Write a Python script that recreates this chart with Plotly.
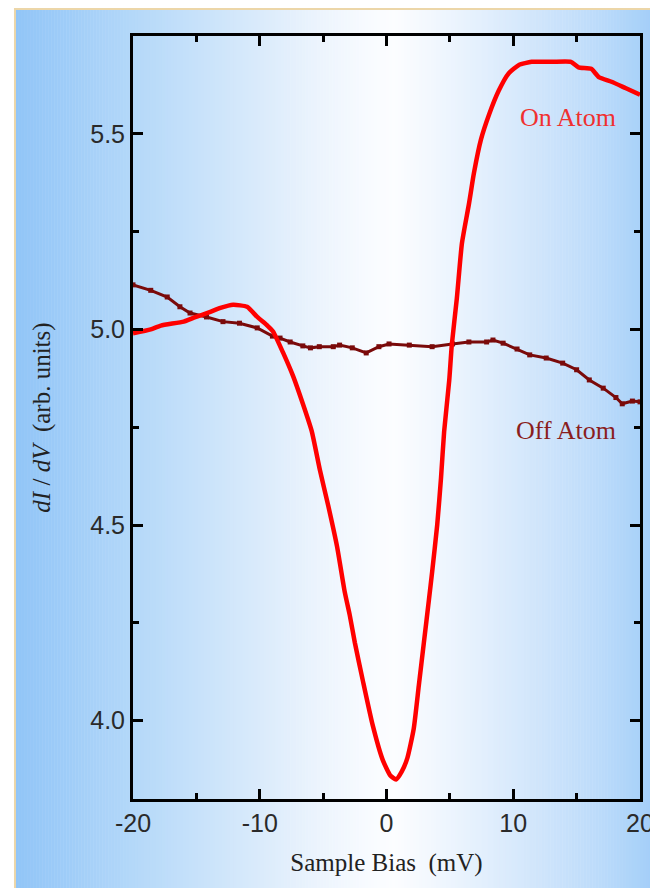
import plotly.graph_objects as go

# ---------------- data ----------------
ON_V = [-20.0, -18.6, -17.8, -16.0, -15.2, -13.9, -13.1, -12.1, -11.0, -10.2, -9.4,
        -8.95, -8.15, -7.36, -6.6, -5.9, -5.25, -4.6, -3.9, -3.3, -2.9, -2.5, -1.85,
        -1.1, -0.3, 0.3, 0.75, 1.2, 1.65, 2.15, 2.55, 2.95, 3.35, 3.6, 4.0, 4.3, 4.55,
        4.95, 5.15, 5.55, 5.95, 6.5, 6.9, 7.45, 8.1, 8.85, 9.65, 10.45, 11.45, 13.05,
        14.55, 15.15, 16.15, 16.75, 17.75, 18.85, 20.0]
ON_DIDV = [4.99, 5.0, 5.01, 5.02, 5.03, 5.045, 5.055, 5.063, 5.058, 5.032, 5.01,
           4.995, 4.94, 4.88, 4.81, 4.74, 4.64, 4.55, 4.445, 4.33, 4.27, 4.20, 4.10,
           3.99, 3.90, 3.86, 3.85, 3.87, 3.905, 3.98, 4.09, 4.20, 4.31, 4.38, 4.50,
           4.62, 4.74, 4.87, 4.96, 5.08, 5.22, 5.32, 5.40, 5.485, 5.55, 5.61, 5.655,
           5.676, 5.684, 5.684, 5.684, 5.67, 5.666, 5.645, 5.633, 5.617, 5.60]

OFF_V = [-20.0, -18.6, -17.3, -16.3, -15.5, -14.2, -12.9, -11.6, -10.2, -9.0, -8.4,
         -7.6, -6.6, -6.0, -5.3, -4.2, -3.7, -2.7, -1.6, -0.6, 0.2, 1.8, 3.6, 5.2,
         6.5, 7.9, 8.4, 9.2, 10.3, 11.3, 12.6, 13.9, 15.0, 16.0, 17.1, 18.1, 18.6,
         19.4, 20.0]
OFF_DIDV = [5.114, 5.10, 5.083, 5.058, 5.042, 5.032, 5.02, 5.016, 5.004, 4.983, 4.978,
            4.968, 4.958, 4.953, 4.956, 4.956, 4.96, 4.953, 4.94, 4.956, 4.963, 4.96,
            4.956, 4.963, 4.968, 4.968, 4.973, 4.965, 4.95, 4.935, 4.927, 4.914, 4.897,
            4.871, 4.85, 4.826, 4.81, 4.817, 4.815]

X_TICK_VALS = [-20, -10, 0, 10, 20]
X_TICK_LABELS = ["-20", "-10", "0", "10", "20"]
X_MINOR_VALS = [-15, -5, 5, 15]
Y_TICK_VALS = [4.0, 4.5, 5.0, 5.5]
Y_TICK_LABELS = ["4.0", "4.5", "5.0", "5.5"]
Y_MINOR_VALS = [4.25, 4.75, 5.25, 5.75]

# ---------------- layout geometry ----------------
# the page body has an 8px margin, so figure pixel = screen pixel - 8
OFF = 8
W, H = 658, 888
L = 133 - OFF
T = 36 - OFF
R = W - (642 - OFF)
B = H - (799 - OFF)
PW, PH = W - L - R, H - T - B


def px_to_paper_x(p):
    # p is a screen pixel
    return (p - OFF - L) / PW


def px_to_paper_y(p):
    return (H - B - (p - OFF)) / PH


# background gradient colour stops (screen pixel x, rgb)
STOPS = [(15, (145, 197, 247)), (70, (160, 205, 248)), (133, (180, 216, 249)),
         (200, (200, 226, 250)), (260, (218, 235, 251)), (320, (236, 244, 253)),
         (370, (248, 251, 255)), (395, (252, 253, 255)), (430, (243, 248, 254)),
         (480, (228, 240, 253)), (540, (208, 229, 251)), (600, (188, 219, 250)),
         (640, (170, 210, 249)), (658, (162, 205, 249))]


def colour_at(p):
    for (p0, c0), (p1, c1) in zip(STOPS[:-1], STOPS[1:]):
        if p0 <= p <= p1:
            t = (p - p0) / (p1 - p0)
            return "rgb(%d,%d,%d)" % tuple(round(a + (b - a) * t) for a, b in zip(c0, c1))
    return "rgb(%d,%d,%d)" % STOPS[-1][1]


shapes = []
step = 3
x = 15
while x < W + OFF:
    x2 = x + step
    shapes.append(dict(type="rect", xref="paper", yref="paper", layer="below",
                       x0=px_to_paper_x(x), x1=px_to_paper_x(x2 + 0.5),
                       y0=px_to_paper_y(H + OFF), y1=px_to_paper_y(9),
                       fillcolor=colour_at(min(x + step / 2, 658)), line=dict(width=0)))
    x += step
# thin beige frame lines (top and left)
shapes.append(dict(type="line", xref="paper", yref="paper", layer="below",
                   x0=px_to_paper_x(14), x1=px_to_paper_x(W + OFF), y0=px_to_paper_y(9), y1=px_to_paper_y(9),
                   line=dict(color="rgb(236,214,168)", width=2)))
shapes.append(dict(type="line", xref="paper", yref="paper", layer="below",
                   x0=px_to_paper_x(14.5), x1=px_to_paper_x(14.5), y0=px_to_paper_y(8), y1=px_to_paper_y(H + OFF),
                   line=dict(color="rgb(236,214,168)", width=2)))

fig = go.Figure()
fig.add_trace(go.Scatter(x=OFF_V, y=OFF_DIDV, mode="lines+markers", name="Off Atom",
                         line=dict(color="#7a0a0a", width=3),
                         marker=dict(symbol="square", size=5, color="#7a0a0a")))
fig.add_trace(go.Scatter(x=ON_V, y=ON_DIDV, mode="lines", name="On Atom",
                         line=dict(color="#ff0000", width=4.5, shape="spline", smoothing=0.5)))

axis_common = dict(showline=True, linecolor="black", linewidth=3, mirror="allticks",
                   ticks="inside", ticklen=10, tickwidth=3, tickcolor="black",
                   showgrid=False, zeroline=False,
                   tickfont=dict(family="Liberation Sans, Arial", size=25, color="#2a2a2a"))

fig.update_layout(
    width=W, height=H, autosize=False,
    margin=dict(l=L, r=R, t=T, b=B, pad=0),
    paper_bgcolor="white", plot_bgcolor="rgba(0,0,0,0)",
    showlegend=False,
    shapes=shapes,
    xaxis=dict(range=[-20, 20], tickmode="array", tickvals=X_TICK_VALS, ticktext=X_TICK_LABELS,
               minor=dict(tickmode="array", tickvals=X_MINOR_VALS, ticks="inside", ticklen=6,
                          tickwidth=3, tickcolor="black"),
               title=dict(text="Sample Bias \u00a0(mV)", standoff=18,
                          font=dict(family="Liberation Serif, Times New Roman", size=25, color="#222")),
               **axis_common),
    yaxis=dict(range=[3.80, 5.75], tickmode="array", tickvals=Y_TICK_VALS, ticktext=Y_TICK_LABELS,
               minor=dict(tickmode="array", tickvals=Y_MINOR_VALS, ticks="inside", ticklen=6,
                          tickwidth=3, tickcolor="black"),
               title=dict(text="<i>dI</i> / <i>dV</i> \u00a0(arb. units)", standoff=33,
                          font=dict(family="Liberation Serif, Times New Roman", size=25, color="#222")),
               **axis_common),
    annotations=[
        dict(x=14.3, y=5.542, xref="x", yref="y", text="On Atom", showarrow=False,
             font=dict(family="Liberation Serif, Times New Roman", size=26, color="#f03030")),
        dict(x=14.2, y=4.742, xref="x", yref="y", text="Off Atom", showarrow=False,
             font=dict(family="Liberation Serif, Times New Roman", size=26, color="#8a1e1e")),
    ],
)

fig.write_html("out.html")
